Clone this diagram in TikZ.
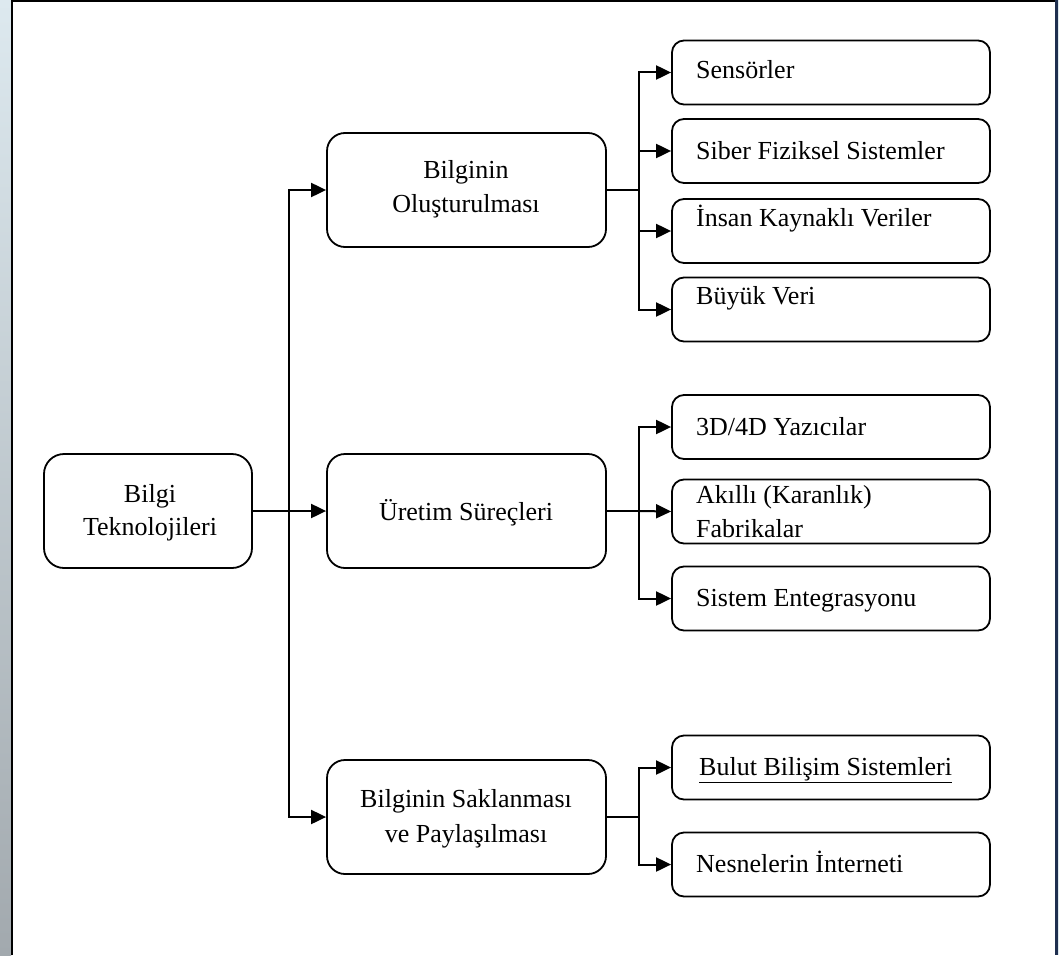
\documentclass[tikz,border=0pt]{standalone}
\usepackage{fontspec}
\setmainfont{Liberation Serif}
\usetikzlibrary{arrows.meta}
\definecolor{stripTop}{HTML}{DDE9EF}
\definecolor{stripMid}{HTML}{CFDCE3}
\definecolor{stripBot}{HTML}{A2A9AE}
\definecolor{frameNavy}{HTML}{1F2F4F}
\begin{document}
\begin{tikzpicture}[x=1pt,y=-1pt,
  txt/.style={font=\fontsize{26}{33}\selectfont, inner sep=0pt},
  rootbox/.style={draw, line width=1.8pt, rounded corners=20pt, minimum width=208pt, minimum height=114pt, inner sep=0pt},
  midbox/.style={draw, line width=1.8pt, rounded corners=18pt, minimum width=279pt, minimum height=114pt, inner sep=0pt},
  leafbox/.style={draw, line width=1.8pt, rounded corners=12pt, minimum width=318pt, minimum height=64pt, inner sep=0pt},
  conn/.style={line width=2pt},
  arr/.style={line width=2pt, -{Triangle[length=15pt,width=14pt]}}
]
% background and frame
\useasboundingbox (0,0) rectangle (1059,955);
\fill[white] (0,0) rectangle (1059,955);
\shade[top color=stripTop, middle color=stripMid, bottom color=stripBot] (0,0) rectangle (11,955);
\fill[stripTop] (1057,0) rectangle (1059,955);
\draw[line width=2pt, black] (11.5,955) -- (11.5,1) -- (1056,1);
\draw[line width=2.5pt, frameNavy] (1056.5,0) -- (1056.5,955);

% root
\node[rootbox] (root) at (148,511) {};
\node[txt, anchor=base] (rootA) at (150,502) {Bilgi};
\node[txt, anchor=base] (rootB) at (150,535) {Teknolojileri};

% middle boxes
\node[midbox] (m1) at (466.5,190) {};
\node[txt, anchor=base] (m1a) at (466,178) {Bilginin};
\node[txt, anchor=base] (m1b) at (466,212) {Oluşturulması};
\node[midbox] (m2) at (466.5,511) {};
\node[txt, anchor=base] (m2a) at (466,520) {Üretim Süreçleri};
\node[midbox] (m3) at (466.5,817) {};
\node[txt, anchor=base] (m3a) at (466,807) {Bilginin Saklanması};
\node[txt, anchor=base] (m3b) at (466,842) {ve Paylaşılması};

% leaves
\node[leafbox] (l1) at (831,72.5) {};
\node[txt, anchor=base west] (t1) at (696,79) {Sensörler};
\node[leafbox] (l2) at (831,151) {};
\node[txt, anchor=base west] (t2) at (696,159) {Siber Fiziksel Sistemler};
\node[leafbox] (l3) at (831,231) {};
\node[txt, anchor=base west] (t3) at (696,226) {İnsan Kaynaklı Veriler};
\node[leafbox] (l4) at (831,309.5) {};
\node[txt, anchor=base west] (t4) at (696,304) {Büyük Veri};
\node[leafbox] (l5) at (831,427) {};
\node[txt, anchor=base west] (t5) at (696,435) {3D/4D Yazıcılar};
\node[leafbox] (l6) at (831,511.5) {};
\node[txt, anchor=base west] (t6a) at (696,503) {Akıllı (Karanlık)};
\node[txt, anchor=base west] (t6b) at (696,537) {Fabrikalar};
\node[leafbox] (l7) at (831,598.5) {};
\node[txt, anchor=base west] (t7) at (696,606) {Sistem Entegrasyonu};
\node[leafbox] (l8) at (831,767.5) {};
\node[txt, anchor=base west] (t8) at (699,775) {\underline{Bulut Bilişim Sistemleri}};
\node[leafbox] (l9) at (831,864.5) {};
\node[txt, anchor=base west] (t9) at (696,872) {Nesnelerin İnterneti};

% trunk
\coordinate (tj) at (289,511);
\draw[arr] (root.east) -- (m2.west);
\draw[arr] (tj) |- (m1.west);
\draw[arr] (tj) |- (m3.west);

% branch 1
\coordinate (j1) at (639,190);
\draw[conn] (m1.east) -- (j1);
\draw[arr] (j1) |- (l1.west);
\draw[arr] (j1) |- (l2.west);
\draw[arr] (j1) |- (l3.west);
\draw[arr] (j1) |- (l4.west);

% branch 2
\coordinate (j2) at (639,511);
\draw[conn] (m2.east) -- (j2);
\draw[arr] (j2) |- (l5.west);
\draw[arr] (j2) -- (l6.west);
\draw[arr] (j2) |- (l7.west);

% branch 3
\coordinate (j3) at (639,817);
\draw[conn] (m3.east) -- (j3);
\draw[arr] (j3) |- (l8.west);
\draw[arr] (j3) |- (l9.west);
\end{tikzpicture}
\end{document}
